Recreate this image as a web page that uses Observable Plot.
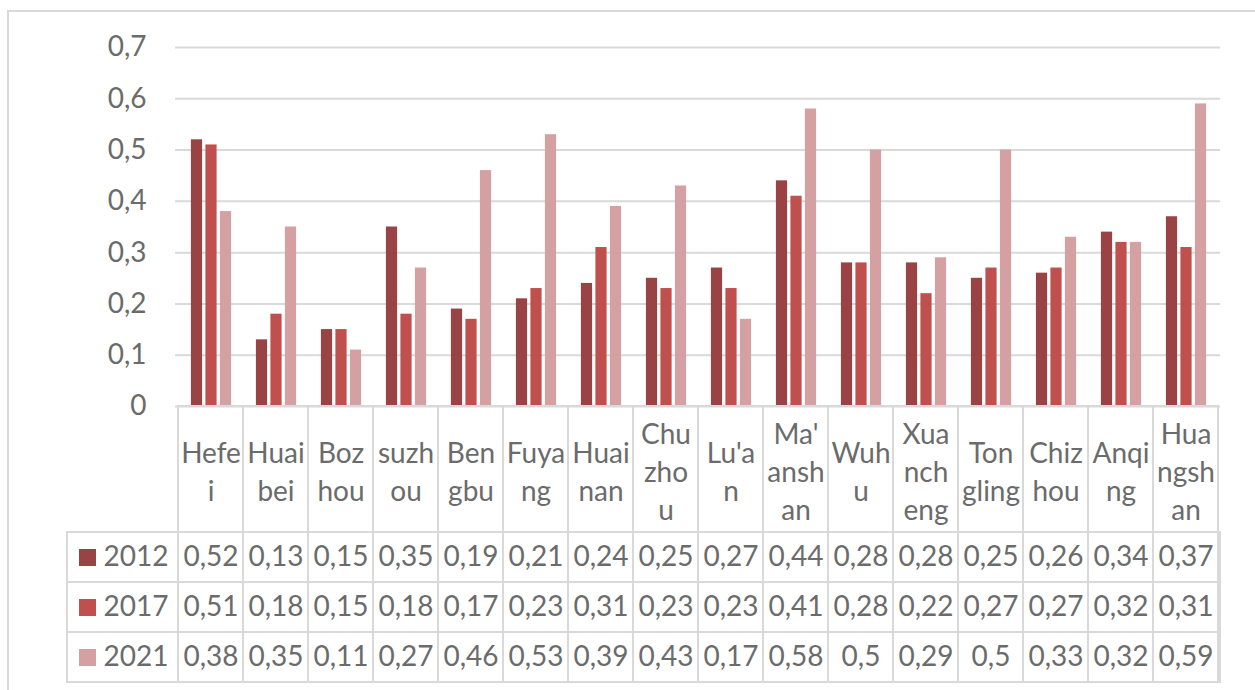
<!DOCTYPE html>
<html>
<head>
<meta charset="utf-8">
<script src="https://cdn.jsdelivr.net/npm/d3@7"></script>
<script src="https://cdn.jsdelivr.net/npm/@observablehq/plot@0.6"></script>
<style>
  html, body { margin: 0; padding: 0; background: #fff; overflow: hidden; }
  #wrap { position: relative; width: 1255px; height: 690px; overflow: hidden; }
  #border { position: absolute; left: 7px; top: 10px; width: 1270px; height: 700px; border: 2px solid #d9d9d9; box-sizing: border-box; }
  #chart, #table { position: absolute; left: 0; }
  #chart { top: 0; }
  #table { top: 532px; }
  svg { overflow: visible; }
</style>
</head>
<body>
<div id="wrap">
  <div id="border"></div>
  <div id="chart"></div>
  <div id="table"></div>
</div>
<script>
const cities = ["Hefei","Huaibei","Bozhou","suzhou","Bengbu","Fuyang","Huainan","Chuzhou","Lu'an","Ma'anshan","Wuhu","Xuancheng","Tongling","Chizhou","Anqing","Huangshan"];
const headerLabels = ["Hefe\ni","Huai\nbei","Boz\nhou","suzh\nou","Ben\ngbu","Fuya\nng","Huai\nnan","Chu\nzho\nu","Lu'a\nn","Ma'\nansh\nan","Wuh\nu","Xua\nnch\neng","Ton\ngling","Chiz\nhou","Anqi\nng","Hua\nngsh\nan"];
const years = ["2012","2017","2021"];
const v2012 = [0.52,0.13,0.15,0.35,0.19,0.21,0.24,0.25,0.27,0.44,0.28,0.28,0.25,0.26,0.34,0.37];
const v2017 = [0.51,0.18,0.15,0.18,0.17,0.23,0.31,0.23,0.23,0.41,0.28,0.22,0.27,0.27,0.32,0.31];
const v2021 = [0.38,0.35,0.11,0.27,0.46,0.53,0.39,0.43,0.17,0.58,0.5,0.29,0.5,0.33,0.32,0.59];
const yTicks = [0,0.1,0.2,0.3,0.4,0.5,0.6,0.7];
const colors = ["#994345","#c0504d","#d5a0a2"];

const series = [v2012, v2017, v2021];
const fmt = v => String(+v.toFixed(2)).replace(".", ",");
const textColor = "#6b6b6b";
const lineColor = "#d9d9d9";
const font = "Lato, 'Open Sans', sans-serif";
const FS = 28;

const W = 1255, mL = 175, mR = 35;
const bw = (W - mL - mR) / cities.length;
const barW = 11.5, gap = 3;
const groupW = 3 * barW + 2 * gap;
const off0 = (bw - groupW) / 2 + 0.5;

const chart = Plot.plot({
  width: W, height: 532,
  marginTop: 47, marginBottom: 126, marginLeft: mL, marginRight: mR,
  style: {fontFamily: font, background: "transparent"},
  x: {domain: cities, padding: 0, axis: null},
  y: {domain: [0, 0.7], axis: null},
  color: {domain: years, range: colors},
  marks: [
    Plot.gridY(yTicks, {stroke: lineColor, strokeOpacity: 1, strokeWidth: 2}),
    Plot.axisY(yTicks, {tickSize: 0, tickPadding: 29, tickFormat: fmt, fontSize: FS, color: textColor, label: null}),
    ...years.map((yr, i) => Plot.barY(cities, {
      x: d => d, y: (d, j) => series[i][j], fill: () => yr,
      insetLeft: off0 + i * (barW + gap),
      insetRight: bw - off0 - i * (barW + gap) - barW
    })),
    Plot.cell(cities, {x: d => d, insetTop: 359, insetBottom: -126, fill: "none", stroke: lineColor, strokeWidth: 2}),
    Plot.text(cities, {x: d => d, text: (d, i) => headerLabels[i], frameAnchor: "bottom", dy: 63,
      lineAnchor: "middle", lineHeight: 1.36, fontSize: FS, fill: textColor})
  ]
});
document.getElementById("chart").appendChild(chart);

const tableData = years.flatMap((yr, i) => cities.map((c, j) => ({year: yr, city: c, value: series[i][j]})));
const table = Plot.plot({
  width: W, height: 158,
  marginTop: 0, marginBottom: 8, marginLeft: mL, marginRight: mR,
  style: {fontFamily: font, background: "transparent"},
  x: {domain: cities, padding: 0, axis: null},
  y: {domain: years, padding: 0, axis: null},
  color: {domain: years, range: colors},
  marks: [
    Plot.cell(years, {y: d => d, insetLeft: -108, fill: "none", stroke: lineColor, strokeWidth: 2}),
    Plot.cell(tableData, {x: "city", y: "year", fill: "none", stroke: lineColor, strokeWidth: 2}),
    Plot.text(tableData, {x: "city", y: "year", text: d => fmt(d.value), fontSize: FS, fill: textColor}),
    Plot.dot(years, {y: d => d, frameAnchor: "left", dx: -88, symbol: "square", r: 9.6, fill: d => d}),
    Plot.text(years, {y: d => d, frameAnchor: "left", dx: -72, textAnchor: "start", fontSize: FS, fill: textColor})
  ]
});
document.getElementById("table").appendChild(table);
</script>
</body>
</html>
